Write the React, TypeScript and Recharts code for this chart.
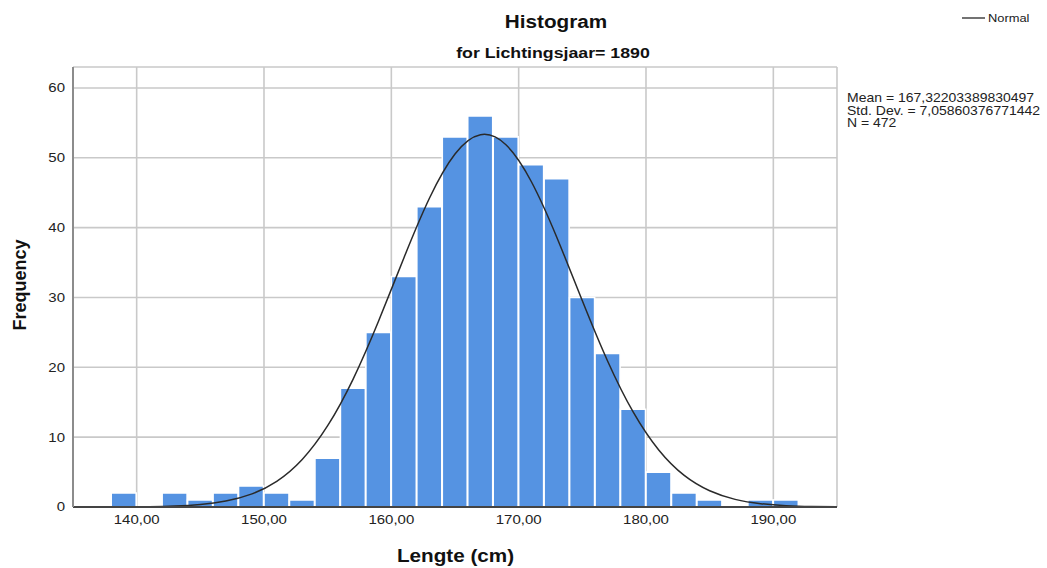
import React from 'react';
import { ComposedChart, Bar, Line, XAxis, YAxis, CartesianGrid } from 'recharts';

// Bin centres (2 cm wide bins) and sample points of the fitted curve share one x grid
const xPoints = [135, 137, 139, 141, 143, 145, 147, 149, 151, 153, 155, 157, 159, 161, 163, 165, 167, 169, 171, 173, 175, 177, 179, 181, 183, 185, 187, 189, 191, 193, 195];
const frequency = [null, null, 2, 0, 2, 1, 2, 3, 2, 1, 7, 17, 25, 33, 43, 53, 56, 53, 49, 47, 30, 22, 14, 5, 2, 1, 0, 1, 1, null, null];
const normalCurve = [0, 0, 0.02, 0.05, 0.14, 0.36, 0.85, 1.84, 3.68, 6.81, 11.64, 18.32, 26.63, 35.73, 44.24, 50.54, 53.3, 51.86, 46.57, 38.59, 29.52, 20.83, 13.57, 8.16, 4.52, 2.32, 1.09, 0.48, 0.19, 0.07, 0.02];

const xTicks = [140, 150, 160, 170, 180, 190];
const yTicks = [0, 10, 20, 30, 40, 50, 60];
const statsLines = ['Mean = 167,32203389830497', 'Std. Dev. = 7,05860376771442', 'N = 472'];
const titleText = 'Histogram';
const subtitleText = 'for Lichtingsjaar= 1890';
const xLabel = 'Lengte (cm)';
const yLabel = 'Frequency';
const legendLabel = 'Normal';

const data = xPoints.map((x, i) => ({ x, freq: frequency[i], normal: normalCurve[i] }));

const FONT = '"Liberation Sans", Arial, Helvetica, sans-serif';

const fmtX = (v: number) => v.toFixed(2).replace('.', ',');

const XTick = (props: any) => {
  const { x, y, payload } = props;
  return (
    <g transform={`translate(${x},${y})`}>
      <text transform="scale(1.2,1)" textAnchor="middle" dy="0.71em" fontSize={12.5} fill="#222" fontFamily={FONT}>
        {fmtX(payload.value)}
      </text>
    </g>
  );
};

const YTick = (props: any) => {
  const { x, y, payload } = props;
  return (
    <g transform={`translate(${x},${y})`}>
      <text transform="scale(1.2,1)" textAnchor="end" dy="0.355em" fontSize={12.5} fill="#222" fontFamily={FONT}>
        {payload.value}
      </text>
    </g>
  );
};

export default function App() {
  return (
    <div style={{ position: 'absolute', left: 0, top: 0, width: 1047, height: 568, background: '#fff' }}>
      <ComposedChart
        width={1047}
        height={568}
        data={data}
        margin={{ top: 67, right: 210, bottom: 31, left: 33 }}
        barCategoryGap={0}
        barGap={0}
      >
        <CartesianGrid stroke="#c9c9c9" strokeWidth={1.6} />
        <XAxis
          dataKey="x"
          type="number"
          domain={[135, 195]}
          ticks={xTicks}
          interval={0}
          allowDataOverflow
          height={30}
          tickLine={false}
          axisLine={{ stroke: '#444', strokeWidth: 2 }}
          tick={<XTick />}
        />
        <YAxis
          type="number"
          domain={[0, 63]}
          ticks={yTicks}
          interval={0}
          allowDataOverflow
          width={40}
          tickLine={false}
          axisLine={{ stroke: '#8c8c8c', strokeWidth: 2 }}
          tick={<YTick />}
        />
        <Bar dataKey="freq" fill="#5593e2" stroke="#ffffff" strokeWidth={1.6} isAnimationActive={false} />
        <Line dataKey="normal" type="natural" stroke="#2a2a2a" strokeWidth={1.5} dot={false} activeDot={false} isAnimationActive={false} />
      </ComposedChart>
      <svg
        width={1047}
        height={568}
        style={{ position: 'absolute', left: 0, top: 0, pointerEvents: 'none' }}
        fontFamily={FONT}
      >
        <g transform="translate(556,27.5) scale(1.12,1)">
          <text textAnchor="middle" fontSize={18.5} fontWeight="bold" fill="#111">{titleText}</text>
        </g>
        <g transform="translate(553,58) scale(1.16,1)">
          <text textAnchor="middle" fontSize={15.3} fontWeight="bold" fill="#111">{subtitleText}</text>
        </g>
        <g transform="translate(455.5,561.5) scale(1.15,1)">
          <text textAnchor="middle" fontSize={18} fontWeight="bold" fill="#111">{xLabel}</text>
        </g>
        <text
          x={25.5}
          y={285}
          transform="rotate(-90, 25.5, 285)"
          textAnchor="middle"
          fontSize={18}
          fontWeight="bold"
          fill="#111"
        >
          {yLabel}
        </text>
        <line x1={962} x2={985} y1={18} y2={18} stroke="#444" strokeWidth={1.5} />
        <g transform="translate(988,22) scale(1.12,1)">
          <text fontSize={11.5} fill="#222">{legendLabel}</text>
        </g>
        <g transform="translate(847,0) scale(1.12,1)">
          {statsLines.map((s, i) => (
            <text key={s} x={0} y={102.5 + i * 12.5} fontSize={12.5} fill="#222">{s}</text>
          ))}
        </g>
      </svg>
    </div>
  );
}
